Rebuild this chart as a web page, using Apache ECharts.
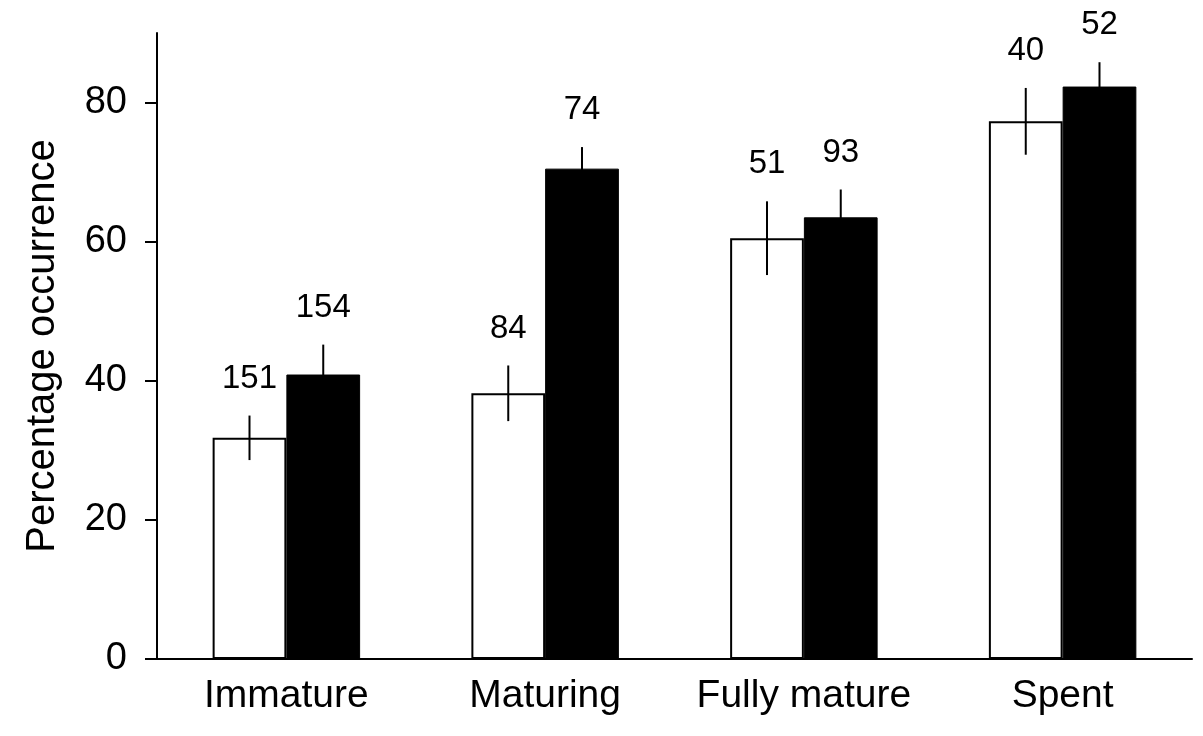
<!DOCTYPE html>
<html>
<head>
<meta charset="utf-8">
<script src="https://cdn.jsdelivr.net/npm/echarts@6/dist/echarts.min.js"></script>
<style>
html,body{margin:0;padding:0;background:#fff;}
#main{width:1203px;height:736px;}
</style>
</head>
<body>
<div id="main"></div>
<script>
const categories = ['Immature', 'Maturing', 'Fully mature', 'Spent'];
const whiteValues = [31.8, 38.2, 60.5, 77.3];
const whiteErrors = [3.2, 4.0, 5.3, 4.8];
const whiteCounts = [151, 84, 51, 40];
const blackValues = [40.9, 70.5, 63.5, 82.3];
const blackErrors = [4.3, 3.1, 4.0, 3.5];
const blackCounts = [154, 74, 93, 52];
const yTicks = [0, 20, 40, 60, 80];
const yTitle = 'Percentage occ' + 'urrence';

const FONT = '"Liberation Sans", Arial, Helvetica, sans-serif';
const GAP_RATIO = 0.43;

const chart = echarts.init(document.getElementById('main'), null, {renderer: 'canvas'});

function errRender(side, values, errors, counts) {
  return function (params, api) {
    const i = api.value(0);
    const v = values[i], e = errors[i];
    const band = api.size([1, 0])[0];
    const bw = band * (1 - GAP_RATIO) / 2;
    const base = api.coord([i, v]);
    const x = base[0] + side * bw / 2;
    const top = api.coord([i, v + e])[1];
    const bot = api.coord([i, v - e])[1];
    return {
      type: 'group',
      children: [
        {type: 'line', shape: {x1: x, y1: top, x2: x, y2: bot},
         style: {stroke: '#000', lineWidth: 2}},
        {type: 'text', x: x, y: top - 37,
         style: {text: String(counts[i]), fill: '#000', font: '33px ' + FONT,
                 align: 'center', verticalAlign: 'middle'}}
      ]
    };
  };
}

const option = {
  backgroundColor: '#fff',
  animation: false,
  grid: {left: 157, right: 11, top: 33, bottom: 77, containLabel: false},
  xAxis: {
    type: 'category',
    data: categories,
    axisLine: {lineStyle: {color: '#000', width: 2}},
    axisTick: {show: false},
    axisLabel: {color: '#000', fontSize: 39, fontFamily: FONT, margin: 18, interval: 0}
  },
  yAxis: {
    type: 'value',
    min: 0, max: 90, interval: 20,
    name: yTitle,
    nameLocation: 'middle',
    nameGap: 94,
    nameTextStyle: {color: '#000', fontSize: 40, fontFamily: FONT},
    axisLine: {show: true, lineStyle: {color: '#000', width: 2}},
    axisTick: {show: true, length: 12, customValues: yTicks, lineStyle: {color: '#000', width: 2}},
    splitLine: {show: false},
    axisLabel: {
      color: '#000', fontSize: 38, fontFamily: FONT, margin: 30,
      customValues: yTicks
    }
  },
  series: [
    {
      type: 'bar', data: whiteValues, barGap: '0%', barCategoryGap: (GAP_RATIO * 100) + '%',
      itemStyle: {color: '#fff', borderColor: '#000', borderWidth: 2}
    },
    {
      type: 'bar', data: blackValues, barGap: '0%', barCategoryGap: (GAP_RATIO * 100) + '%',
      itemStyle: {color: '#000', borderColor: '#000', borderWidth: 1}
    },
    {
      type: 'custom', renderItem: errRender(-1, whiteValues, whiteErrors, whiteCounts),
      data: categories.map((c, i) => [i]), z: 10
    },
    {
      type: 'custom', renderItem: errRender(1, blackValues, blackErrors, blackCounts),
      data: categories.map((c, i) => [i]), z: 10
    }
  ]
};
chart.setOption(option);
</script>
</body>
</html>
